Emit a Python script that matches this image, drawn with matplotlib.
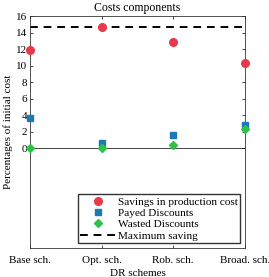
import matplotlib
matplotlib.use("Agg")
import matplotlib.pyplot as plt

esquemas = ['Base sch.', 'Opt. sch.', 'Rob. sch.', 'Broad. sch.']
ahorro_produccion = [11.9, 14.7, 12.8, 10.3]
descuentos_pagados = [3.6, 0.6, 1.6, 2.8]
descuentos_perdidos = [0.0, 0.0, 0.4, 2.3]
ahorro_maximo = 14.7

plt.rcParams['font.family'] = ['Liberation Serif', 'DejaVu Serif']
plt.rcParams['font.size'] = 8

x = [1, 2, 3, 4]
fig, ax = plt.subplots(figsize=(2.69, 2.77), dpi=100)
fig.subplots_adjust(left=0.112, right=0.91, top=0.942, bottom=0.105)

ax.axhline(0, color='#444444', lw=0.7, zorder=1)
ax.plot(x, ahorro_produccion, 'o', color='#e8394a', ms=5.5, clip_on=False, zorder=3,
        label='Savings in production cost')
ax.plot(x, descuentos_pagados, 's', color='#1b79b3', ms=5, clip_on=False, zorder=3,
        label='Payed Discounts')
ax.plot(x, descuentos_perdidos, 'D', color='#2ec24a', ms=4.5, clip_on=False, zorder=4,
        label='Wasted Discounts')
ax.axhline(ahorro_maximo, color='black', ls='--', lw=1.4, dashes=(4, 3), zorder=2,
           label='Maximum saving')

ax.set_xlim(1, 4)
ax.set_ylim(-12.1, 16)
ax.set_yticks(range(0, 17, 2))
ax.set_xticks(x)
ax.set_xticklabels(esquemas)
ax.tick_params(direction='in', top=True, right=True, length=2.5, width=0.5, pad=2)
ax.tick_params(axis='x', pad=6)
for s in ax.spines.values():
    s.set_linewidth(0.6)
    s.set_color('#333333')

ax.set_title('Costs components', pad=4, fontsize=8.5)
ax.set_xlabel('DR schemes', labelpad=2.5)
ax.set_ylabel('Percentages of initial cost', labelpad=2)
ax.legend(loc='lower right', fancybox=False, edgecolor='#333333', framealpha=1,
          borderaxespad=0.4, handlelength=3.2, labelspacing=0.12, borderpad=0.25,
          handletextpad=0.1, fontsize=8.1)

plt.savefig('out.png', dpi=100)
